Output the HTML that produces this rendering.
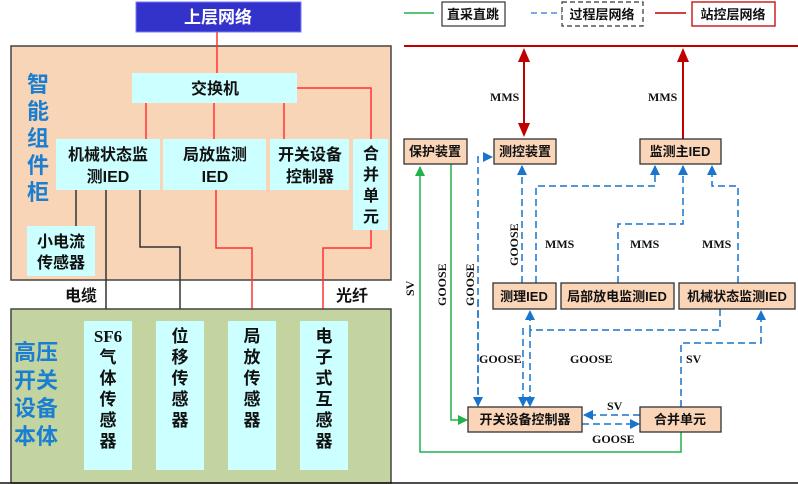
<!DOCTYPE html>
<html><head><meta charset="utf-8"><style>
html,body{margin:0;padding:0;background:#fff;}
svg{display:block;}
text{font-family:"Liberation Serif","Noto Serif CJK SC","Noto Sans CJK SC",serif;font-weight:bold;}
.cj{font-family:"Liberation Sans","Noto Sans CJK SC",sans-serif;}
</style></head><body>
<svg width="798" height="484" viewBox="0 0 798 484" xmlns="http://www.w3.org/2000/svg">
<defs>
<marker id="ar" markerWidth="8" markerHeight="8" refX="7" refY="4" orient="auto" markerUnits="userSpaceOnUse"><path d="M0,0 L8,4 L0,8 z" fill="#c00000"/></marker>
<marker id="ab" markerWidth="10" markerHeight="10" refX="9" refY="5" orient="auto" markerUnits="userSpaceOnUse"><path d="M0,0 L10,5 L0,10 z" fill="#1874cd"/></marker>
<marker id="ag" markerWidth="10" markerHeight="10" refX="9" refY="5" orient="auto" markerUnits="userSpaceOnUse"><path d="M0,0 L10,5 L0,10 z" fill="#21b24a"/></marker>
<marker id="arb" markerWidth="12" markerHeight="12" refX="11" refY="6" orient="auto" markerUnits="userSpaceOnUse"><path d="M0,0 L12,6 L0,12 z" fill="#c00000"/></marker>
</defs>
<!-- LEFT -->
<rect x="136" y="2" width="165" height="30" fill="#3333cc" stroke="#7777ff" stroke-width="1"/>
<text x="218" y="23" fill="#fff" font-size="17" text-anchor="middle" class="cj">上层网络</text>
<rect x="11" y="46" width="380" height="234" fill="#f9d5b7" stroke="#444" stroke-width="1.5"/>
<g fill="#1a7fd0" font-size="22" class="cj" text-anchor="middle">
<text x="38" y="92" class="cj">智</text><text x="38" y="119" class="cj">能</text><text x="38" y="146" class="cj">组</text><text x="38" y="173" class="cj">件</text><text x="38" y="200" class="cj">柜</text>
</g>
<g stroke="#ff3333" stroke-width="1.5" fill="none">
<line x1="217" y1="32" x2="217" y2="73"/>
<line x1="146" y1="103" x2="146" y2="139"/>
<line x1="214" y1="103" x2="214" y2="139"/>
<line x1="284" y1="103" x2="284" y2="139"/>
<polyline points="297,88 371,88 371,139"/>
<polyline points="216,190 216,248 252,248 252,321"/>
<polyline points="371,230 371,248 323,248 323,321"/>
</g>
<g stroke="#333" stroke-width="1.5" fill="none">
<line x1="76" y1="190" x2="76" y2="226"/>
<line x1="106" y1="190" x2="106" y2="321"/>
<polyline points="140,190 140,247 180,247 180,321"/>
</g>
<g fill="#ccffff">
<rect x="132" y="73" width="165" height="30"/>
<rect x="56" y="139" width="104" height="51"/>
<rect x="163" y="139" width="103" height="51"/>
<rect x="270" y="139" width="79" height="51"/>
<rect x="353" y="139" width="35" height="91"/>
<rect x="27" y="226" width="68" height="50"/>
</g>
<g font-size="16" fill="#111" text-anchor="middle" class="cj">
<text x="215" y="94" class="cj">交换机</text>
<text x="108" y="160" class="cj">机械状态监</text><text x="108" y="182" class="cj">测IED</text>
<text x="215" y="160" class="cj">局放监测</text><text x="215" y="182" class="cj">IED</text>
<text x="310" y="160" class="cj">开关设备</text><text x="310" y="182" class="cj">控制器</text>
<text x="371" y="159" class="cj">合</text><text x="371" y="180" class="cj">并</text><text x="371" y="201" class="cj">单</text><text x="371" y="222" class="cj">元</text>
<text x="61" y="247" class="cj">小电流</text><text x="61" y="268" class="cj">传感器</text>
<text x="81" y="301" class="cj">电缆</text>
<text x="352" y="301" class="cj">光纤</text>
</g>
<rect x="11" y="309" width="380" height="174" fill="#c4d4a0" stroke="#444" stroke-width="1.5"/>
<g fill="#1a7fd0" font-size="22" class="cj" text-anchor="middle">
<text x="36" y="360" class="cj">高压</text><text x="36" y="388" class="cj">开关</text><text x="36" y="416" class="cj">设备</text><text x="36" y="444" class="cj">本体</text>
</g>
<g fill="#ccffff">
<rect x="84" y="321" width="48" height="149"/>
<rect x="156" y="321" width="48" height="149"/>
<rect x="228" y="321" width="48" height="149"/>
<rect x="300" y="321" width="48" height="149"/>
</g>
<g font-size="17" fill="#111" text-anchor="middle" class="cj">
<text x="108" y="342">SF6</text><text x="108" y="363" class="cj">气</text><text x="108" y="384" class="cj">体</text><text x="108" y="405" class="cj">传</text><text x="108" y="426" class="cj">感</text><text x="108" y="447" class="cj">器</text>
<text x="180" y="342" class="cj">位</text><text x="180" y="363" class="cj">移</text><text x="180" y="384" class="cj">传</text><text x="180" y="405" class="cj">感</text><text x="180" y="426" class="cj">器</text>
<text x="252" y="342" class="cj">局</text><text x="252" y="363" class="cj">放</text><text x="252" y="384" class="cj">传</text><text x="252" y="405" class="cj">感</text><text x="252" y="426" class="cj">器</text>
<text x="324" y="342" class="cj">电</text><text x="324" y="363" class="cj">子</text><text x="324" y="384" class="cj">式</text><text x="324" y="405" class="cj">互</text><text x="324" y="426" class="cj">感</text><text x="324" y="447" class="cj">器</text>
</g>
<!-- RIGHT legend -->
<line x1="404" y1="13" x2="434" y2="13" stroke="#21b24a" stroke-width="1.5"/>
<rect x="442" y="2" width="63" height="24" fill="#fff" stroke="#333" stroke-width="1.2"/>
<line x1="531" y1="13" x2="563" y2="13" stroke="#4a90d9" stroke-width="1.5" stroke-dasharray="6,4"/>
<rect x="562" y="2" width="81" height="24" fill="#fff" stroke="#333" stroke-width="1.2" stroke-dasharray="5,3"/>
<line x1="655" y1="13" x2="686" y2="13" stroke="#c00000" stroke-width="1.5"/>
<rect x="692" y="2" width="83" height="24" fill="#fff" stroke="#cc2222" stroke-width="1.5"/>
<g font-size="13" fill="#111" text-anchor="middle" class="cj">
<text x="473" y="19" class="cj">直采直跳</text>
<text x="602" y="19" class="cj">过程层网络</text>
<text x="733" y="19" class="cj">站控层网络</text>
</g>
<line x1="404" y1="46" x2="798" y2="46" stroke="#c00000" stroke-width="2"/>
<line x1="524" y1="60" x2="524" y2="125" stroke="#c00000" stroke-width="2"/>
<path d="M524,48 L518,62 L530,62 z M524,137 L518,123 L530,123 z" fill="#c00000"/>
<line x1="683" y1="60" x2="683" y2="140" stroke="#c00000" stroke-width="2"/>
<path d="M683,48 L677,62 L689,62 z" fill="#c00000"/>
<g font-size="12" fill="#111">
<text x="490" y="101">MMS</text><text x="648" y="101">MMS</text>
<text x="545" y="248">MMS</text><text x="630" y="248">MMS</text><text x="702" y="248">MMS</text>
<text x="479" y="363">GOOSE</text><text x="570" y="363">GOOSE</text>
<text x="686" y="363">SV</text><text x="607" y="410">SV</text><text x="592" y="443">GOOSE</text>
<text transform="translate(414,296) rotate(-90)">SV</text>
<text transform="translate(446,306) rotate(-90)">GOOSE</text>
<text transform="translate(474,306) rotate(-90)">GOOSE</text>
<text transform="translate(518,266) rotate(-90)">GOOSE</text>
</g>
<!-- green -->
<g stroke="#21b24a" stroke-width="1.5" fill="none">
<polyline points="681,432 681,452 420,452 420,167" marker-end="url(#ag)"/>
<polyline points="451,164 451,420 467,420" marker-end="url(#ag)"/>
</g>
<!-- blue dashed -->
<g stroke="#1874cd" stroke-width="1.5" fill="none" stroke-dasharray="7,4">
<polyline points="478,405 478,157 492,157" marker-end="url(#ab)"/>
<line x1="478" y1="300" x2="478" y2="406" marker-end="url(#ab)"/>
<line x1="522" y1="283" x2="522" y2="166" marker-end="url(#ab)"/>
<polyline points="536,283 536,186 655,186 655,166" marker-end="url(#ab)"/>
<polyline points="618,283 618,224 683,224 683,166" marker-end="url(#ab)"/>
<polyline points="738,283 738,186 712,186 712,166" marker-end="url(#ab)"/>
<polyline points="720,309 720,330 530,330 530,311" marker-end="url(#ab)"/>
<line x1="530" y1="330" x2="530" y2="406" marker-end="url(#ab)"/>
<line x1="523" y1="328" x2="523" y2="406" marker-end="url(#ab)"/>
<polyline points="681,407 681,343 761,343 761,311" marker-end="url(#ab)"/>
<line x1="640" y1="415" x2="584" y2="415" marker-end="url(#ab)"/>
<line x1="582" y1="424" x2="639" y2="424" marker-end="url(#ab)"/>
</g>
<!-- boxes -->
<g fill="#fad5b8" stroke="#333" stroke-width="1.3">
<rect x="404" y="139" width="63" height="25"/>
<rect x="494" y="139" width="62" height="25"/>
<rect x="640" y="139" width="81" height="25"/>
<rect x="493" y="283" width="63" height="26"/>
<rect x="561" y="283" width="113" height="26"/>
<rect x="679" y="283" width="116" height="26"/>
<rect x="468" y="407" width="114" height="25"/>
<rect x="640" y="407" width="81" height="25"/>
</g>
<g font-size="13" fill="#111" text-anchor="middle" class="cj">
<text x="435" y="156" class="cj">保护装置</text>
<text x="525" y="156" class="cj">测控装置</text>
<text x="680" y="156" class="cj">监测主IED</text>
<text x="524" y="301" class="cj">测理IED</text>
<text x="617" y="301" class="cj">局部放电监测IED</text>
<text x="737" y="301" class="cj">机械状态监测IED</text>
<text x="525" y="424" class="cj">开关设备控制器</text>
<text x="680" y="424" class="cj">合并单元</text>
</g>
<line x1="0" y1="483" x2="798" y2="483" stroke="#111" stroke-width="1.5"/>
</svg>
</body></html>
